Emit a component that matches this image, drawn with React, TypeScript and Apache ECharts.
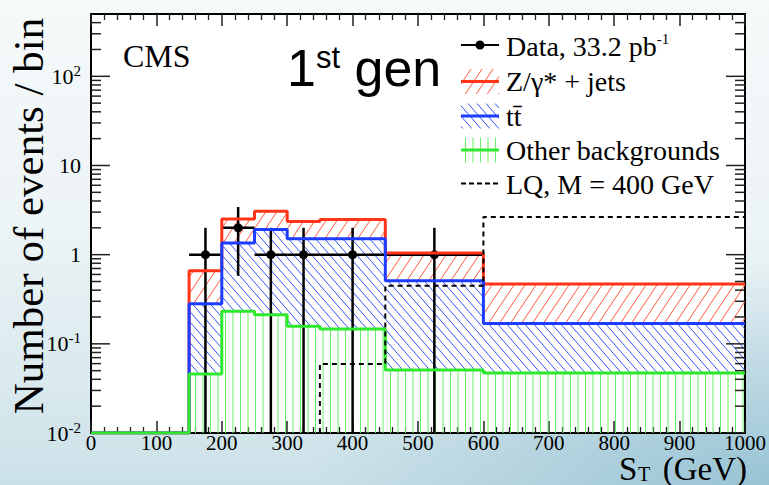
import React, { useEffect, useRef } from "react";
import * as echarts from "echarts";

// ---------------- data ----------------
const binEdges = [0, 150, 200, 250, 300, 350, 450, 600, 1000];
const otherBackgrounds = [0, 0.046, 0.232, 0.212, 0.157, 0.147, 0.051, 0.047];
const ttbarEvents = [0, 0.236, 1.12, 1.7, 1.35, 1.36, 0.46, 0.122];
const zJetsEvents = [0, 0.38, 1.16, 1.15, 0.85, 0.98, 0.53, 0.3];
const lqEvents = [0, 0, 0, 0, 0, 0.0594, 0.449, 2.65];

const dataCenters = [175, 225, 275, 325, 400, 525];
const dataBinLow = [150, 200, 250, 300, 350, 450];
const dataBinHigh = [200, 250, 300, 350, 450, 600];
const dataCounts = [1, 2, 1, 1, 1, 1];
const dataErrUp = [1, 1.42, 1, 1, 1, 1];
const dataErrDown = [1, 1.42, 1, 1, 1, 1];

const yDecades = [0.01, 0.1, 1, 10, 100];
const legendLabels = ["Data, 33.2 pb{sup|-1}", "Z/\u03b3* + jets", "tt\u0304", "Other backgrounds", "LQ, M = 400 GeV"];

const YMIN = 0.01;
const YMAX = 500;
const SERIF = '"Liberation Serif", "Times New Roman", serif';
const SANS = '"Liberation Sans", Arial, sans-serif';

const RED = "#ff3418";
const RED_H = "#ff5a3a";
const BLUE = "#1c3cff";
const BLUE_H = "#3554ff";
const GREEN = "#2ee82e";
const GREEN_H = "#66ee66";

// stacks
const greenTop = otherBackgrounds.slice();
const blueTop = greenTop.map((v, i) => v + ttbarEvents[i]);
const redTop = blueTop.map((v, i) => v + zJetsEvents[i]);

type Seg = [number, number, number, number];

function hatchSegments(L: number, T: number, R: number, B: number, kind: string, spacing: number, slope: number): Seg[] {
  const out: Seg[] = [];
  if (R <= L || B <= T) return out;
  if (kind === "vert") {
    const k0 = Math.ceil(L / spacing);
    const k1 = Math.floor(R / spacing);
    for (let k = k0; k <= k1; k++) {
      const x = k * spacing + 0.5;
      if (x > L && x < R) out.push([x, T, x, B]);
    }
    return out;
  }
  const step = slope * spacing;
  if (kind === "fwd") {
    const cmin = T + slope * L;
    const cmax = B + slope * R;
    for (let k = Math.ceil(cmin / step); k <= Math.floor(cmax / step); k++) {
      const c = k * step;
      const xa = Math.max(L, (c - B) / slope);
      const xb = Math.min(R, (c - T) / slope);
      if (xb > xa) out.push([xa, c - slope * xa, xb, c - slope * xb]);
    }
  } else {
    const cmin = slope * L - B;
    const cmax = slope * R - T;
    for (let k = Math.ceil(cmin / step); k <= Math.floor(cmax / step); k++) {
      const c = k * step;
      const xa = Math.max(L, (c + T) / slope);
      const xb = Math.min(R, (c + B) / slope);
      if (xb > xa) out.push([xa, slope * xa - c, xb, slope * xb - c]);
    }
  }
  return out;
}

const HATCH = {
  red: { kind: "fwd", spacing: 11, slope: 1.5, color: RED_H },
  blue: { kind: "back", spacing: 9, slope: 1.15, color: BLUE_H },
  green: { kind: "vert", spacing: 7.5, slope: 1, color: GREEN_H },
};

function hatchSeries(lower: number[], upper: number[], h: any) {
  const rows: number[][] = [];
  for (let i = 0; i < upper.length; i++) {
    if (upper[i] > 0 && upper[i] > lower[i]) {
      rows.push([binEdges[i], binEdges[i + 1], Math.max(lower[i], YMIN), upper[i]]);
    }
  }
  return {
    type: "custom",
    coordinateSystem: "cartesian2d",
    xAxisIndex: 0,
    yAxisIndex: 0,
    silent: true,
    clip: true,
    data: rows,
    encode: { x: [0, 1], y: [2, 3] },
    renderItem: (params: any, api: any) => {
      const a = api.coord([api.value(0), api.value(3)]);
      const b = api.coord([api.value(1), api.value(2)]);
      const segs = hatchSegments(a[0], a[1], b[0], b[1], h.kind, h.spacing, h.slope);
      let d = "";
      for (const s of segs) d += "M" + s[0].toFixed(2) + " " + s[1].toFixed(2) + "L" + s[2].toFixed(2) + " " + s[3].toFixed(2);
      if (!d) return null;
      return { type: "path", shape: { pathData: d }, style: { stroke: h.color, lineWidth: 1, fill: "none" } };
    },
  };
}

function stepPoints(tops: number[]) {
  const pts: number[][] = [];
  for (let i = 0; i < tops.length; i++) pts.push([binEdges[i], tops[i] > 0 ? tops[i] : YMIN]);
  const last = tops[tops.length - 1];
  pts.push([binEdges[tops.length], last > 0 ? last : YMIN]);
  return pts;
}

function outlineSeries(tops: number[], color: string) {
  return {
    type: "line",
    step: "end",
    symbol: "none",
    silent: true,
    data: stepPoints(tops),
    lineStyle: { color, width: 3 },
    xAxisIndex: 0,
    yAxisIndex: 0,
  };
}

function lqPoints() {
  const pts: number[][] = [];
  let started = false;
  for (let i = 0; i < lqEvents.length; i++) {
    if (lqEvents[i] > 0) {
      if (!started) {
        pts.push([binEdges[i], YMIN]);
        started = true;
      }
      pts.push([binEdges[i], lqEvents[i]]);
    }
  }
  pts.push([binEdges[lqEvents.length], lqEvents[lqEvents.length - 1]]);
  return pts;
}

function yTickRows() {
  const rows: number[][] = [];
  for (const d of yDecades) {
    rows.push([d, 1]);
    for (let m = 2; m <= 9; m++) {
      const v = m * d;
      if (v < YMAX - 1e-9) rows.push([v, 0]);
    }
  }
  return rows;
}

function yLabel(v: number) {
  const lg = Math.log10(v);
  const e = Math.round(lg);
  if (Math.abs(lg - e) > 1e-6) return "";
  if (e === 0) return "{b|1}";
  if (e === 1) return "{b|10}";
  return "{b|10}{sup|" + e + "}";
}

function buildGraphic() {
  const els: any[] = [];
  const LX0 = 461;
  const LX1 = 499;
  const LTX = 506;
  const rowY = [46, 81.5, 116, 150, 184.5];
  const half = 12.5;
  const txt = (x: number, y: number, text: string, font: string, extra: any = {}) => ({
    type: "text",
    x,
    y,
    silent: true,
    style: Object.assign(
      { text, font, fill: "#000", textAlign: "left", textVerticalAlign: "middle", align: "left", verticalAlign: "middle" },
      extra
    ),
  });
  // CMS + 1st gen
  els.push(txt(123, 56, "CMS", "32px " + SERIF));
  els.push(
    txt(287, 68, "{a|1}{s|st}{a| gen}", "52px " + SANS, {
      rich: {
        a: { fontSize: 52, fontFamily: SANS, lineHeight: 52, fill: "#000" },
        s: { fontSize: 31, fontFamily: SANS, lineHeight: 34, verticalAlign: "top", fill: "#000" },
      },
    })
  );
  // legend row 1: data
  els.push({ type: "line", silent: true, shape: { x1: LX0, y1: rowY[0] - 1, x2: LX1, y2: rowY[0] - 1 }, style: { stroke: "#000", lineWidth: 2 } });
  els.push({ type: "circle", silent: true, shape: { cx: (LX0 + LX1) / 2, cy: rowY[0] - 1, r: 4.5 }, style: { fill: "#000" } });
  // hatch boxes
  const boxes = [
    { y: rowY[1], h: HATCH.red, c: RED },
    { y: rowY[2], h: HATCH.blue, c: BLUE },
    { y: rowY[3], h: HATCH.green, c: GREEN },
  ];
  for (const b of boxes) {
    const segs = hatchSegments(LX0, b.y - half, LX1, b.y + half, b.h.kind, b.h.spacing, b.h.slope);
    for (const s of segs) {
      els.push({ type: "line", silent: true, shape: { x1: s[0], y1: s[1], x2: s[2], y2: s[3] }, style: { stroke: b.h.color, lineWidth: 1 } });
    }
    els.push({ type: "line", silent: true, shape: { x1: LX0, y1: b.y, x2: LX1, y2: b.y }, style: { stroke: b.c, lineWidth: 3 } });
  }
  els.push({ type: "line", silent: true, shape: { x1: LX0, y1: rowY[4] - 1, x2: LX1, y2: rowY[4] - 1 }, style: { stroke: "#000", lineWidth: 2, lineDash: [5, 3] } });
  // legend texts
  const sup = {
    rich: {
      m: { fontSize: 28, fontFamily: SERIF, lineHeight: 30, fill: "#000" },
      sup: { fontSize: 15, fontFamily: SERIF, lineHeight: 22, verticalAlign: "top", fill: "#000" },
    },
  };
  els.push(txt(LTX, rowY[0], "{m|Data, 33.2 pb}" + legendLabels[0].slice("Data, 33.2 pb".length), "28px " + SERIF, sup));
  for (let i = 1; i < legendLabels.length; i++) els.push(txt(LTX, rowY[i], legendLabels[i], "28px " + SERIF));
  // axis titles
  els.push({
    type: "text",
    x: 50,
    y: 216,
    rotation: Math.PI / 2,
    silent: true,
    style: {
      text: "Number of events / bin",
      font: "43px " + SERIF,
      fill: "#000",
      textAlign: "center",
      textVerticalAlign: "bottom",
      align: "center",
      verticalAlign: "bottom",
    },
  });
  // S_T (GeV): main letters plus a lowered subscript
  els.push(txt(619, 468.5, "S", "33px " + SERIF));
  els.push(txt(638, 474, "T", "20px " + SERIF));
  els.push(txt(747, 468.5, "(GeV)", "33px " + SERIF, { textAlign: "right", align: "right" }));
  return els;
}

export default function App() {
  const ref = useRef<HTMLDivElement>(null);
  useEffect(() => {
    document.body.style.margin = "0";
    if (!ref.current) return;
    const chart = echarts.init(ref.current, null, { renderer: "svg" });
    const xAxisBase = {
      type: "value",
      min: 0,
      max: 1000,
      interval: 100,
      gridIndex: 0,
      axisLine: { show: false },
      splitLine: { show: false },
      axisTick: { show: true, inside: true, length: 12, lineStyle: { color: "#222", width: 1.5 } },
      minorTick: { show: true, splitNumber: 5, length: 6, lineStyle: { color: "#222", width: 1.3 } },
      minorSplitLine: { show: false },
    };
    const option: any = {
      animation: false,
      backgroundColor: "transparent",
      grid: {
        left: 91,
        right: 21,
        top: 14,
        bottom: 52,
        show: true,
        backgroundColor: "#ffffff",
        borderColor: "#000",
        borderWidth: 2,
      },
      xAxis: [
        Object.assign({}, xAxisBase, {
          position: "bottom",
          axisLabel: {
            show: true,
            margin: 2,
            fontSize: 21,
            lineHeight: 16,
            fontFamily: SERIF,
            color: "#000",
            formatter: (v: number) => String(v),
          },
        }),
        Object.assign({}, xAxisBase, { position: "top", axisLabel: { show: false } }),
      ],
      yAxis: {
        type: "log",
        logBase: 10,
        min: YMIN,
        max: YMAX,
        splitNumber: 5,
        axisLine: { show: false },
        axisTick: { show: false },
        minorTick: { show: false },
        splitLine: { show: false },
        axisLabel: {
          margin: 10,
          formatter: yLabel,
          showMaxLabel: false,
          rich: {
            b: { fontSize: 22, fontFamily: SERIF, lineHeight: 26, color: "#000" },
            sup: { fontSize: 15, fontFamily: SERIF, lineHeight: 15, verticalAlign: "top", color: "#000" },
          },
        },
      },
      series: [
        hatchSeries(blueTop, redTop, HATCH.red),
        hatchSeries(greenTop, blueTop, HATCH.blue),
        hatchSeries(greenTop.map(() => 0), greenTop, HATCH.green),
        outlineSeries(redTop, RED),
        outlineSeries(blueTop, BLUE),
        outlineSeries(greenTop, GREEN),
        {
          type: "line",
          step: "end",
          symbol: "none",
          silent: true,
          data: lqPoints(),
          lineStyle: { color: "#000", width: 2, type: [5, 4] },
        },
        {
          type: "custom",
          coordinateSystem: "cartesian2d",
          silent: true,
          clip: true,
          data: yTickRows(),
          encode: { x: 1, y: 0 },
          renderItem: (params: any, api: any) => {
            const v = api.value(0);
            const major = api.value(1) === 1;
            const pl = api.coord([0, v]);
            const pr = api.coord([1000, v]);
            const len = major ? 19 : 10;
            const st = { stroke: "#222", lineWidth: 1.5 };
            return {
              type: "group",
              children: [
                { type: "line", shape: { x1: pl[0], y1: pl[1], x2: pl[0] + len, y2: pl[1] }, style: st },
                { type: "line", shape: { x1: pr[0] - len, y1: pr[1], x2: pr[0], y2: pr[1] }, style: st },
              ],
            };
          },
        },
        {
          type: "custom",
          coordinateSystem: "cartesian2d",
          silent: true,
          clip: true,
          data: dataCenters.map((x, i) => [x, dataCounts[i], dataBinLow[i], dataBinHigh[i], dataErrUp[i], dataErrDown[i]]),
          encode: { x: [0, 2, 3], y: 1 },
          renderItem: (params: any, api: any) => {
            const x = api.value(0);
            const n = api.value(1);
            const pc = api.coord([x, n]);
            const pl = api.coord([api.value(2), n]);
            const ph = api.coord([api.value(3), n]);
            const pt = api.coord([x, n + api.value(4)]);
            const pb = api.coord([x, Math.max(n - api.value(5), YMIN)]);
            const st = { stroke: "#000", lineWidth: 2.5 };
            return {
              type: "group",
              children: [
                { type: "line", shape: { x1: pl[0], y1: pl[1], x2: ph[0], y2: ph[1] }, style: st },
                { type: "line", shape: { x1: pt[0], y1: pt[1], x2: pb[0], y2: pb[1] }, style: st },
                { type: "circle", shape: { cx: pc[0], cy: pc[1], r: 4.5 }, style: { fill: "#000" } },
              ],
            };
          },
        },
      ],
      graphic: { elements: buildGraphic() },
    };
    chart.setOption(option);
    return () => chart.dispose();
  }, []);
  return (
    <div
      ref={ref}
      style={{
        width: 769,
        height: 485,
        background:
          "radial-gradient(ellipse 60% 45% at 100% 100%, rgba(110,170,195,0.55), rgba(110,170,195,0) 100%), linear-gradient(180deg, #f5f9fa 0%, #edf4f6 45%, #d9e9ee 80%, #cbe1e8 100%)",
      }}
    />
  );
}
